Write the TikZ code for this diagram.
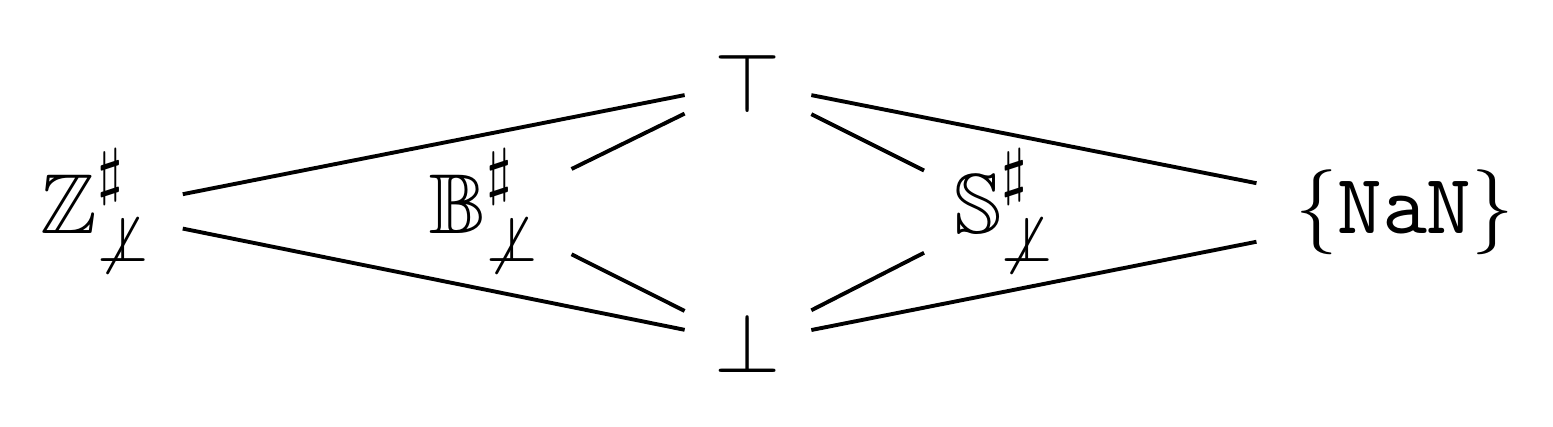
\documentclass[11pt,tikz,border=0pt]{standalone}
\usepackage{amsmath}
\usepackage{amssymb}
\usepackage{tikz}

\begin{document}
\begin{tikzpicture}[line width=0.5pt]
\useasboundingbox (0,0) rectangle (7.03,1.933);

\node (top) at (3.386,1.559) {$\top$};
\node (bot) at (3.386,0.382) {$\bot$};

\node[anchor=base] (Z) at (0.437,0.875) {$\mathbb{Z}^\sharp_{\not\bot}$};
\node[anchor=base] (B) at (2.197,0.875) {$\mathbb{B}^\sharp_{\not\bot}$};
\node[anchor=base] (S) at (4.552,0.875) {$\mathbb{S}^\sharp_{\not\bot}$};
\node[anchor=base,inner xsep=1ex] (nan) at (6.358,0.875) {$\{\mathtt{NaN}\}$};

\draw (Z) -- (top);
\draw (Z) -- (bot);

\draw (B) -- (top);
\draw (B) -- (bot);

\draw (S) -- (top);
\draw (S) -- (bot);

\draw (nan) -- (top);
\draw (nan) -- (bot);

\end{tikzpicture}
\end{document}
